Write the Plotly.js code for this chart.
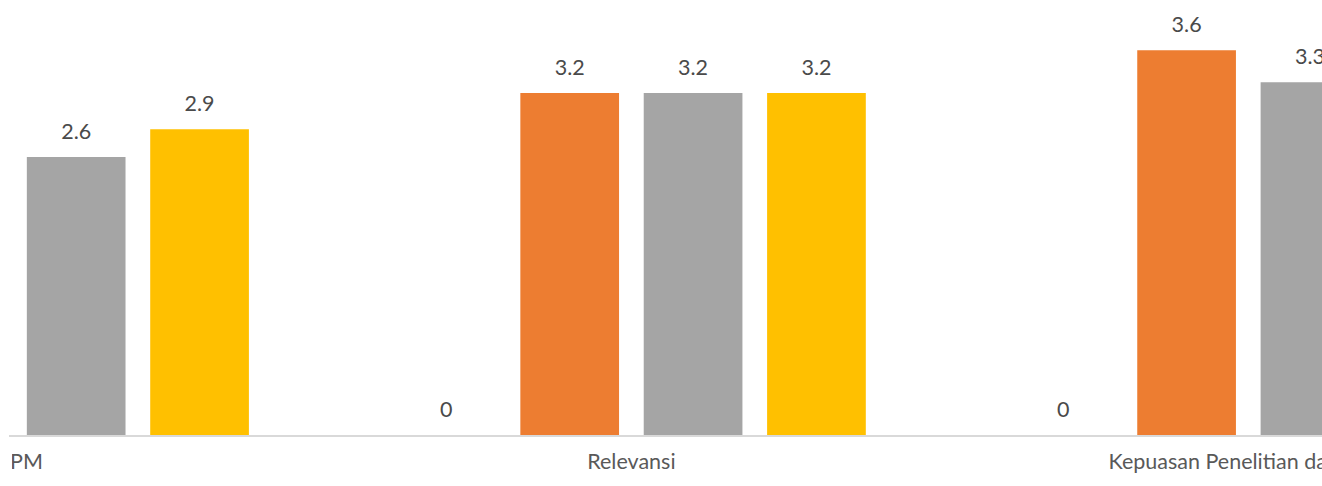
<!DOCTYPE html>
<html>
<head>
<meta charset="utf-8">
<script src="https://cdn.plot.ly/plotly-3.0.1.min.js"></script>
<style>
  html, body { margin: 0; padding: 0; background: #ffffff; }
  #chart { width: 1322px; height: 486px; }
</style>
</head>
<body>
<div id="chart"></div>
<script>
// Categories (the view is a cropped window of a wider chart)
const categories = ["LPPM", "Relevansi", "Kepuasan Penelitian dan PkM"];

// Series values (null = outside the visible window, not readable)
const series1 = [null, 0, 0];
const series2 = [null, 3.2, 3.6];
const series3 = [2.6, 3.2, 3.3];
const series4 = [2.86, 3.2, null];

const seriesNames = ["Seri 1", "Seri 2", "Seri 3", "Seri 4"];
const seriesColors = ["#4472C4", "#ED7D31", "#A5A5A5", "#FFC000"];

const FONT = "Lato, 'Open Sans', sans-serif";

function labelText(v) {
  if (v === null) return "";
  return String(Math.round(v * 10) / 10);
}

const allSeries = [series1, series2, series3, series4];
const traces = allSeries.map((vals, i) => ({
  type: "bar",
  name: seriesNames[i],
  x: categories,
  y: vals,
  marker: { color: seriesColors[i] },
  text: vals.map(labelText),
  textposition: "outside",
  cliponaxis: false,
  textfont: { family: FONT, size: 21.5, color: "#4a4a4a" },
  hoverinfo: "x+y+name"
}));

const layout = {
  width: 1322,
  height: 486,
  margin: { l: 9, r: 0, t: 0, b: 51, pad: 0 },
  paper_bgcolor: "#ffffff",
  plot_bgcolor: "#ffffff",
  showlegend: false,
  barmode: "group",
  bargap: 0.2,
  bargroupgap: 0.2,
  font: { family: FONT, size: 21.5, color: "#595959" },
  xaxis: {
    type: "category",
    range: [-0.0089, 2.1195],
    showline: true,
    linecolor: "#D9D9D9",
    linewidth: 1.5,
    ticks: "",
    ticklabelstandoff: 7,
    showgrid: false,
    zeroline: false,
    tickfont: { family: FONT, size: 21.5, color: "#595959" },
    fixedrange: true
  },
  yaxis: {
    range: [0, 4.069],
    showticklabels: false,
    showgrid: false,
    zeroline: false,
    showline: false,
    ticks: "",
    fixedrange: true
  },
  shapes: [{
    type: "rect",
    layer: "above",
    xref: "paper", yref: "paper",
    x0: -0.02, x1: 0.0022, y0: -0.2, y1: -0.025,
    fillcolor: "#ffffff",
    line: { width: 0 }
  }]
};

Plotly.newPlot("chart", traces, layout, { displayModeBar: false, staticPlot: true })
  .then(gd => {
    // lift the data labels a little higher above the bars, as in the reference
    gd.querySelectorAll("text.bartext").forEach(t => {
      const tr = t.getAttribute("transform") || "";
      t.setAttribute("transform", "translate(0,-10) " + tr);
    });
  });
</script>
</body>
</html>
